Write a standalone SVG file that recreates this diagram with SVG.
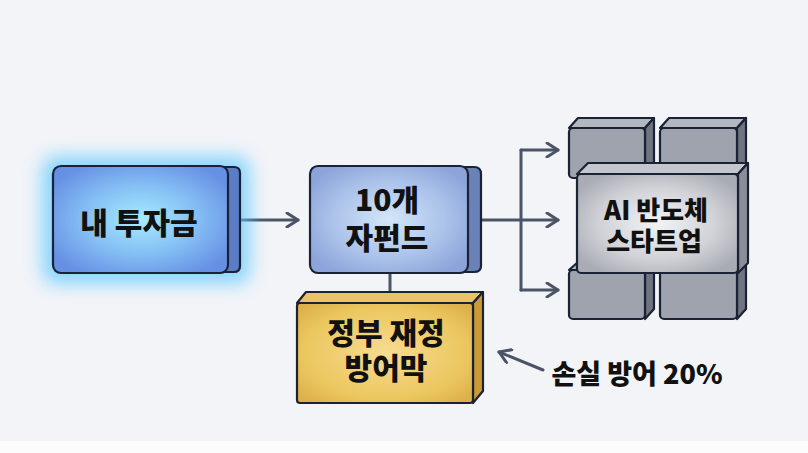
<svg xmlns="http://www.w3.org/2000/svg" width="808" height="453" viewBox="0 0 808 453">
<style>
.t{font-family:"Noto Sans CJK KR","Noto Sans",sans-serif;font-weight:900;fill:#111;text-anchor:middle}
.ln{stroke:#4b5466;stroke-width:3;fill:none;stroke-linecap:round;stroke-linejoin:round}
.edge{stroke:#1b2236;stroke-width:2.2;stroke-linejoin:round}
.gf{fill:#9ea3ad}
.gt{fill:#b3b7bf}
.gs{fill:#6f7480}
</style>
<defs>
<radialGradient id="gBlue" cx="0.5" cy="0.5" r="0.6">
<stop offset="0" stop-color="#a6ecff"/><stop offset="0.55" stop-color="#84bdf4"/><stop offset="1" stop-color="#6690e4"/>
</radialGradient>
<radialGradient id="gFund" cx="0.5" cy="0.5" r="0.6">
<stop offset="0" stop-color="#d2e7f8"/><stop offset="0.6" stop-color="#abc2ea"/><stop offset="1" stop-color="#8ca4d9"/>
</radialGradient>
<radialGradient id="gGold" cx="0.5" cy="0.5" r="0.65">
<stop offset="0" stop-color="#f7dc90"/><stop offset="0.7" stop-color="#ecc760"/><stop offset="1" stop-color="#ddb04a"/>
</radialGradient>
<radialGradient id="gGray" cx="0.5" cy="0.5" r="0.6">
<stop offset="0" stop-color="#f2f3f5"/><stop offset="0.6" stop-color="#d0d2d7"/><stop offset="1" stop-color="#a9acb4"/>
</radialGradient>
<filter id="glow" x="-30%" y="-40%" width="160%" height="180%"><feGaussianBlur stdDeviation="9"/></filter>
<marker id="ah2" viewBox="0 0 16 16" refX="13" refY="8" markerWidth="16" markerHeight="16" markerUnits="userSpaceOnUse" orient="auto">
<path d="M2,1 L13,8 L2,15" fill="none" stroke="#4b5466" stroke-width="3" stroke-linecap="round" stroke-linejoin="round"/>
</marker>
</defs>
<rect width="808" height="453" fill="#f2f4f8"/>
<rect y="441" width="808" height="12" fill="#fcfcfd"/>

<g id="connectors">
<path class="ln" d="M242,220 H298" marker-end="url(#ah2)"/>
<path class="ln" d="M390,274 V292"/>
<path class="ln" d="M482,220 H558" marker-end="url(#ah2)"/>
<path class="ln" d="M521,150 V290"/>
<path class="ln" d="M521,150 H558" marker-end="url(#ah2)"/>
<path class="ln" d="M521,290 H558" marker-end="url(#ah2)"/>
<path class="ln" d="M543,370 L499,352" marker-end="url(#ah2)"/>
</g>

<g id="node-my-investment">
<rect x="42" y="156" width="208" height="128" rx="14" fill="#5cc8ff" opacity="0.7" filter="url(#glow)"/>
<path class="edge" d="M220,167 H234 Q240,167 240,173 V266 Q240,272 234,272 H220 Z" fill="#5a7dc6"/>
<rect class="edge" x="53" y="166" width="175" height="107" rx="8" fill="url(#gBlue)"/>
<text class="t" x="139" y="234" font-size="30">내 투자금</text>
</g>

<g id="node-subfunds">
<path class="edge" d="M460,167 H474 Q481,167 481,174 V266 Q481,272 474,272 H460 Z" fill="#6a82b8"/>
<rect class="edge" x="310" y="166" width="158" height="107" rx="8" fill="url(#gFund)"/>
<text class="t" x="387" y="211" font-size="30">10개</text>
<text class="t" x="387" y="249" font-size="30">자펀드</text>
</g>

<g id="node-government">
<path class="edge" d="M297,303 L306,292 H483 L473,303 Z" fill="#e9c466"/>
<path class="edge" d="M473,303 L483,292 V391 L473,403 Z" fill="#c99a36"/>
<rect class="edge" x="297" y="303" width="176" height="100" rx="3" fill="url(#gGold)"/>
<text class="t" x="386" y="344" font-size="30">정부 재정</text>
<text class="t" x="386" y="379" font-size="30">방어막</text>
</g>

<g id="node-ai-startups">
<path class="edge gt" d="M569,128 L578,118 H654 L645,128 Z"/>
<path class="edge gs" d="M645,128 L654,118 V170 L645,178 Z"/>
<rect class="edge gf" x="569" y="128" width="76" height="50" rx="4"/>
<path class="edge gt" d="M660,128 L669,118 H746 L737,128 Z"/>
<path class="edge gs" d="M737,128 L746,118 V170 L737,178 Z"/>
<rect class="edge gf" x="660" y="128" width="77" height="50" rx="4"/>
<path class="edge gt" d="M569,270 L578,262 H654 L645,270 Z"/>
<path class="edge gs" d="M645,270 L654,262 V309 L645,319 Z"/>
<rect class="edge gf" x="569" y="270" width="76" height="49" rx="4"/>
<path class="edge gt" d="M660,270 L669,262 H746 L737,270 Z"/>
<path class="edge gs" d="M737,270 L746,262 V309 L737,319 Z"/>
<rect class="edge gf" x="660" y="270" width="77" height="49" rx="4"/>
<path class="edge" d="M577,174 L588,163 H748 L738,174 Z" fill="#c3c6cc"/>
<path class="edge" d="M738,174 L748,163 V263 L738,273 Z" fill="#8a8e98"/>
<rect class="edge" x="577" y="174" width="161" height="99" rx="4" fill="url(#gGray)"/>
<text class="t" x="656" y="220" font-size="26">AI 반도체</text>
<text class="t" x="654" y="251" font-size="26">스타트업</text>
</g>

<g id="label-loss">
<text class="t" x="637" y="384" font-size="27">손실 방어 20%</text>
</g>
</svg>
